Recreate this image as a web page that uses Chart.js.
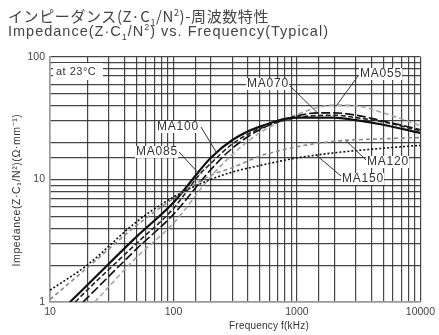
<!DOCTYPE html>
<html>
<head>
<meta charset="utf-8">
<script src="https://cdn.jsdelivr.net/npm/chart.js@4/dist/chart.umd.min.js"></script>
<style>
  html, body { margin: 0; padding: 0; background: #fff; }
  #wrap { position: relative; width: 439px; height: 335px; overflow: hidden; }
  #chart { position: absolute; left: 0; top: 0; }
  .ttl { position: absolute; left: 8px; color: #444; white-space: nowrap; line-height: 1; }
  #t1 { top: 5px; font: 15px "Noto Sans CJK JP", "Liberation Sans", sans-serif; letter-spacing: 0.6px; }
  #t2 { top: 23px; font: 14.5px "Liberation Sans", Arial, sans-serif; letter-spacing: 1px; }
  sub, sup { font-size: 9px; line-height: 0; }
</style>
</head>
<body>
<div id="wrap">
  <canvas id="chart" width="439" height="335"></canvas>
  <div class="ttl" id="t1">インピーダンス(Z·C<sub>1</sub>/N<sup>2</sup>)-周波数特性</div>
  <div class="ttl" id="t2">Impedance(Z·C<sub>1</sub>/N<sup>2</sup>) vs. Frequency(Typical)</div>
</div>
<script>
// Frequency (kHz) and normalized impedance Z·C1/N² (Ω·mm⁻¹) for each core material
const freqMA150 = [10, 20, 50, 100, 200, 300, 500, 1000, 2000, 5000, 10000];
const zMA150    = [1.25, 2.0, 4.5, 7.2, 10, 11.5, 13, 15, 16.5, 18, 19];

const freqMA120 = [10, 20, 50, 100, 200, 300, 500, 1000, 2000, 5000, 10000];
const zMA120    = [1.05, 1.9, 4.2, 7.0, 10.8, 12.5, 15.5, 18.5, 20.5, 21.5, 22];

const freqMA100 = [14.5, 20, 50, 100, 200, 300, 500, 1000, 2000, 3000, 5000, 10000];
const zMA100    = [1, 1.37, 3.4, 6.5, 15, 21, 27, 32, 32, 30.5, 28, 24];

const freqMA085 = [16, 20, 50, 100, 163, 200, 300, 500, 1000, 2000, 3000, 5000, 10000];
const zMA085    = [1, 1.25, 3.0, 5.8, 11, 13.5, 19.5, 26, 32, 33.5, 32, 29.5, 25];

const freqMA070 = [18.5, 20, 50, 100, 200, 300, 500, 1000, 1500, 2000, 3000, 5000, 10000];
const zMA070    = [1, 1.08, 2.7, 5.2, 12, 18, 25.5, 33, 35, 35, 33.5, 30, 25.5];

const freqMA055 = [23, 50, 100, 200, 300, 500, 1000, 2000, 3000, 5000, 10000];
const zMA055    = [1, 2.3, 4.4, 10.5, 16, 24, 34, 40.5, 40, 35, 27.5];

// Tick labels shown on the log axes
const xTickLabels = [10, 100, 1000, 10000];
const yTickLabels = [1, 10, 100];

function pts(fs, zs) { return fs.map((f, i) => ({ x: f, y: zs[i] })); }

// log-log interpolation of a series at frequency f
function zAt(fs, zs, f) {
  for (let i = 0; i < fs.length - 1; i++) {
    if (f >= fs[i] && f <= fs[i + 1]) {
      const t = (Math.log10(f) - Math.log10(fs[i])) / (Math.log10(fs[i + 1]) - Math.log10(fs[i]));
      return Math.pow(10, Math.log10(zs[i]) + t * (Math.log10(zs[i + 1]) - Math.log10(zs[i])));
    }
  }
  return zs[zs.length - 1];
}

const series = {
  MA150: { f: freqMA150, z: zMA150, color: '#111', dash: [2, 2], width: 1.6 },
  MA120: { f: freqMA120, z: zMA120, color: '#8a8a8a', dash: [4, 3], width: 1.6 },
  MA100: { f: freqMA100, z: zMA100, color: '#111', dash: [], width: 2.2 },
  MA085: { f: freqMA085, z: zMA085, color: '#222', dash: [5, 2.5], width: 1.6 },
  MA070: { f: freqMA070, z: zMA070, color: '#111', dash: [9, 3], width: 1.6 },
  MA055: { f: freqMA055, z: zMA055, color: '#a5a5a5', dash: [5, 3], width: 1.6 }
};

// Callout labels: text position in px, pointer from (px,py) to the curve at frequency f
const callouts = [
  { name: 'MA100', tx: 157, ty: 127, px: 201, py: 127, f: 224 },
  { name: 'MA085', tx: 136, ty: 152, px: 179, py: 152, f: 163 },
  { name: 'MA070', tx: 247, ty: 84,  px: 290, py: 86,  f: 1470 },
  { name: 'MA055', tx: 360, ty: 74,  px: 358, py: 76,  f: 2100 },
  { name: 'MA120', tx: 367, ty: 162, px: 366, py: 160, f: 2500 },
  { name: 'MA150', tx: 342, ty: 179, px: 341, py: 176, f: 1440 }
];

const FONT = '"Liberation Sans", Arial, sans-serif';

const annotations = {
  id: 'annotations',
  afterDatasetsDraw(chart) {
    const ctx = chart.ctx;
    const xs = chart.scales.x, ys = chart.scales.y;
    ctx.save();
    ctx.textBaseline = 'middle';
    // "at 23°C" box
    ctx.fillStyle = '#fff';
    ctx.fillRect(53, 63, 50, 17);
    ctx.fillStyle = '#333';
    ctx.textAlign = 'left';
    ctx.font = '11px ' + FONT;
    ctx.letterSpacing = '0.5px';
    ctx.fillText('at 23°C', 56, 72);
    // callouts
    ctx.font = '12px ' + FONT;
    ctx.letterSpacing = '0.8px';
    callouts.forEach(c => {
      const s = series[c.name];
      const ex = xs.getPixelForValue(c.f);
      const ey = ys.getPixelForValue(zAt(s.f, s.z, c.f));
      ctx.strokeStyle = '#333';
      ctx.lineWidth = 1;
      ctx.setLineDash([]);
      ctx.beginPath();
      ctx.moveTo(c.px, c.py);
      ctx.lineTo(ex, ey);
      ctx.stroke();
      const w = ctx.measureText(c.name).width;
      ctx.fillStyle = '#fff';
      ctx.fillRect(c.tx - 1, c.ty - 6, w + 1, 12);
      ctx.fillStyle = '#333';
      ctx.fillText(c.name, c.tx, c.ty);
    });
    // axis titles
    ctx.fillStyle = '#333';
    ctx.textAlign = 'center';
    ctx.font = '10px ' + FONT;
    ctx.letterSpacing = '0.2px';
    ctx.fillText('Frequency f(kHz)', 269, 326);
    ctx.translate(17, 190);
    ctx.rotate(-Math.PI / 2);
    ctx.font = '10.5px ' + FONT;
    ctx.letterSpacing = '0.6px';
    ctx.fillText('Impedance(Z·C₁/N²)(Ω·mm⁻¹)', 0, 0);
    ctx.restore();
  }
};

const datasets = Object.keys(series).map(k => ({
  label: k,
  data: pts(series[k].f, series[k].z),
  borderColor: series[k].color,
  borderDash: series[k].dash,
  borderWidth: series[k].width,
  pointRadius: 0,
  fill: false,
  cubicInterpolationMode: 'monotone'
}));

const gridColor = 'rgba(50,50,50,0.9)';

new Chart(document.getElementById('chart'), {
  type: 'line',
  data: { datasets },
  plugins: [annotations],
  options: {
    responsive: false,
    animation: false,
    layout: { padding: { left: 0, right: 18, top: 57, bottom: 0 } },
    plugins: { legend: { display: false }, tooltip: { enabled: false } },
    scales: {
      x: {
        type: 'logarithmic',
        min: 10, max: 10000,
        afterFit(s) { s.height = 33; },
        border: { color: '#999', width: 1.5 },
        grid: { color: gridColor, lineWidth: 1.2, drawTicks: false },
        ticks: {
          autoSkip: false, maxRotation: 0, padding: 4,
          color: '#444', font: { family: FONT, size: 10.5 },
          callback: v => xTickLabels.includes(v) ? String(v) : ''
        }
      },
      y: {
        type: 'logarithmic',
        min: 1, max: 100,
        afterFit(s) { s.width = 50; },
        border: { color: '#999', width: 1.5 },
        grid: { color: gridColor, lineWidth: 1.2, drawTicks: false },
        ticks: {
          autoSkip: false, padding: 5,
          color: '#444', font: { family: FONT, size: 10.5 },
          callback: v => yTickLabels.includes(v) ? String(v) : ''
        }
      }
    }
  }
});
</script>
</body>
</html>
